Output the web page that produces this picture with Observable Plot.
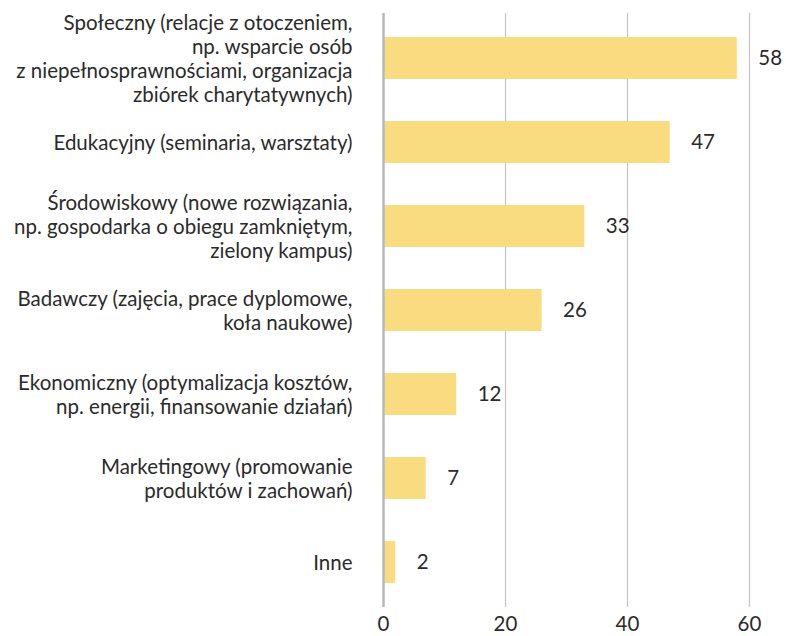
<!DOCTYPE html>
<html>
<head>
<meta charset="utf-8">
<script src="https://cdn.jsdelivr.net/npm/d3@7"></script>
<script src="https://cdn.jsdelivr.net/npm/@observablehq/plot@0.6"></script>
<style>
  html, body { margin: 0; padding: 0; background: #fff; }
  #chart svg { display: block; font-family: Lato, "Noto Sans", sans-serif; }
</style>
</head>
<body>
<div id="chart"></div>
<script>
// Obszary działań i liczba wskazań
const categories = [
  "Społeczny (relacje z otoczeniem,\nnp. wsparcie osób\nz niepełnosprawnościami, organizacja\nzbiórek charytatywnych)",
  "Edukacyjny (seminaria, warsztaty)",
  "Środowiskowy (nowe rozwiązania,\nnp. gospodarka o obiegu zamkniętym,\nzielony kampus)",
  "Badawczy (zajęcia, prace dyplomowe,\nkoła naukowe)",
  "Ekonomiczny (optymalizacja kosztów,\nnp. energii, finansowanie działań)",
  "Marketingowy (promowanie\nproduktów i zachowań)",
  "Inne"
];
const values = [58, 47, 33, 26, 12, 7, 2];
const xTicks = [0, 20, 40, 60];

const data = categories.map((c, i) => ({category: c, value: values[i]}));

const chart = Plot.plot({
  width: 786,
  height: 636,
  marginLeft: 383,
  marginRight: 37,
  marginTop: 13,
  marginBottom: 29,
  style: {fontSize: "20px", color: "#2b2b2b", background: "#fff"},
  x: {domain: [0, 60], label: null},
  y: {domain: categories, paddingInner: 0.5, paddingOuter: 0.273, label: null},
  marks: [
    Plot.gridX(xTicks.filter(d => d !== 0), {stroke: "#c4c4c4", strokeOpacity: 1, strokeWidth: 1.2}),
    Plot.barX(data, {x: "value", y: "category", fill: "#f9dc80"}),
    Plot.ruleX([0], {stroke: "#b8b8b8", strokeWidth: 2.5}),
    Plot.text(data, {x: "value", y: "category", text: d => String(d.value), textAnchor: "start", dx: 21, fill: "#2b2b2b", fontSize: 20.5}),
    Plot.axisY({tickSize: 0, tickPadding: 31, lineHeight: 1.17, fontSize: 20.5, fill: "#2b2b2b"}),
    Plot.axisX(xTicks, {tickSize: 0, tickPadding: 9, fontSize: 20.5, fill: "#2b2b2b", label: null})
  ]
});

document.getElementById("chart").append(chart);
</script>
</body>
</html>
